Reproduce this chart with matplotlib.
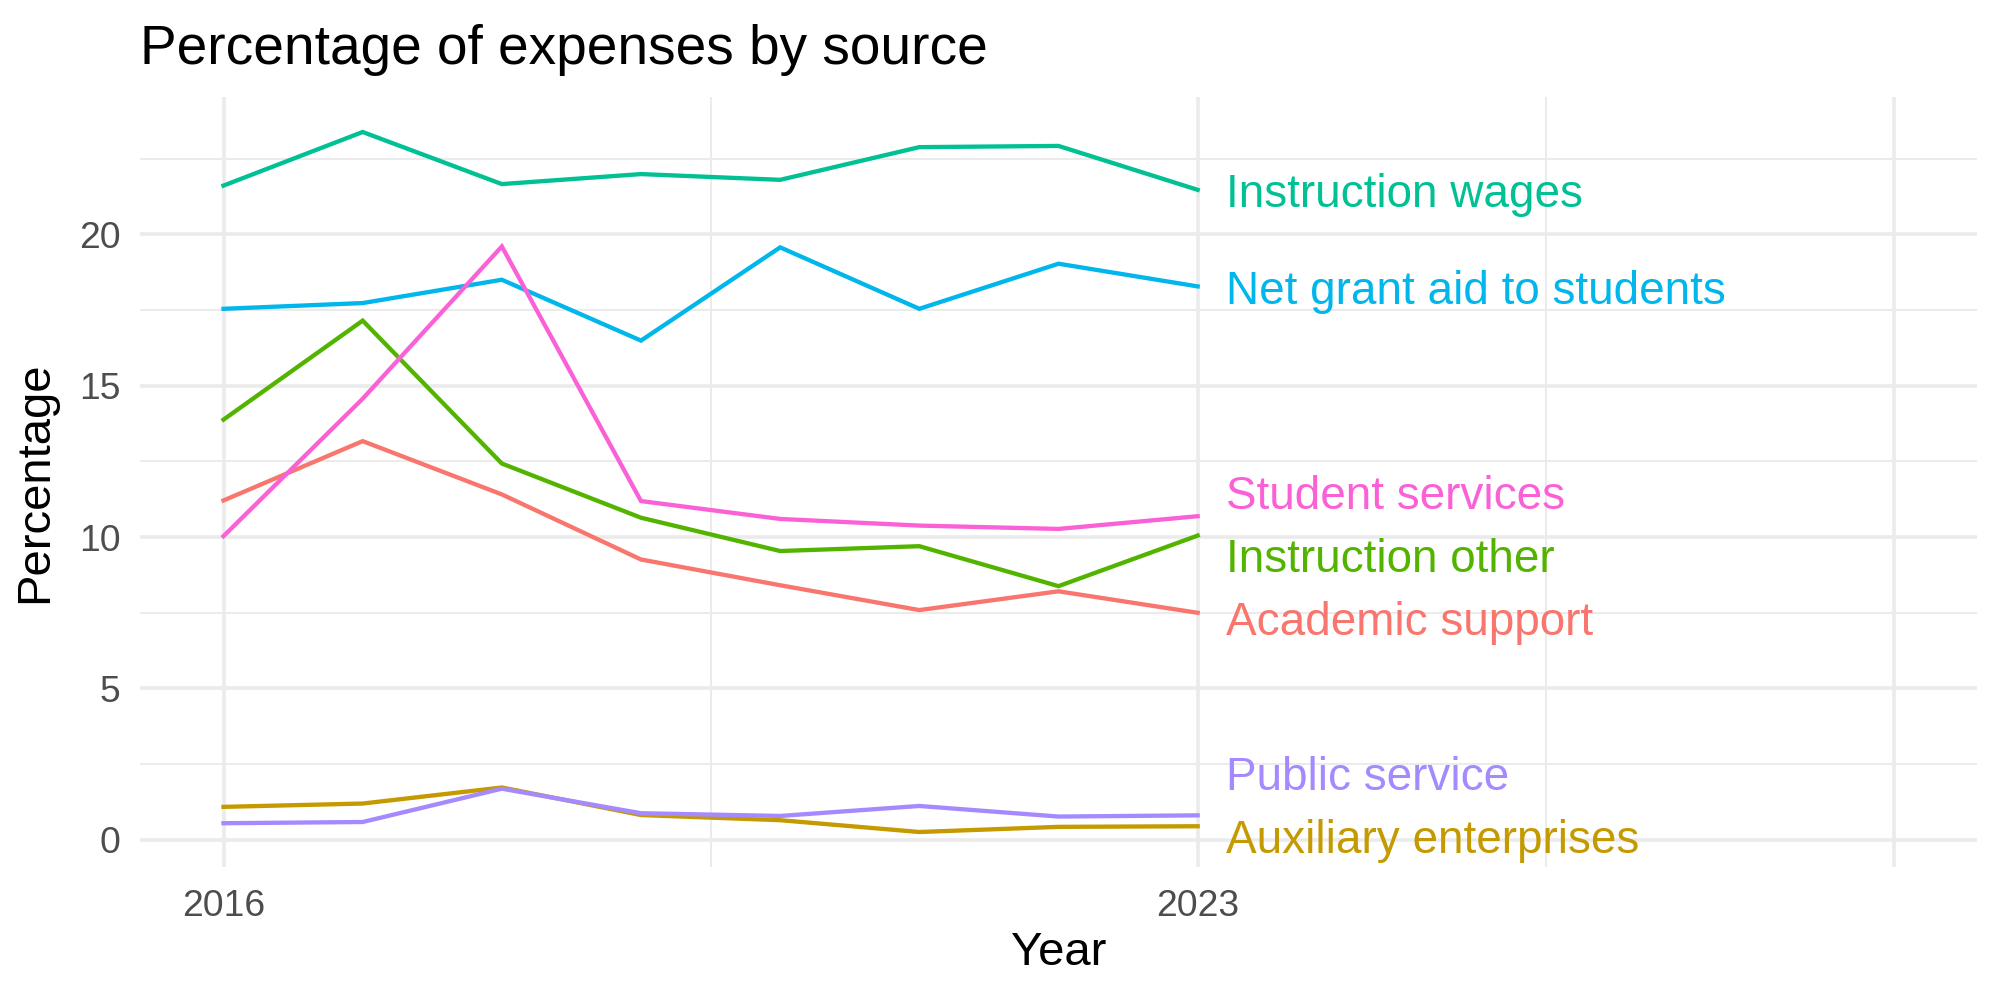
import matplotlib.pyplot as plt
import numpy as np

plt.rcParams['font.family'] = ['Liberation Sans', 'DejaVu Sans']

years = [2016, 2017, 2018, 2019, 2020, 2021, 2022, 2023]

academic_support = [11.21, 13.17, 11.41, 9.26, 8.41, 7.59, 8.21, 7.50]
auxiliary = [1.09, 1.20, 1.73, 0.82, 0.65, 0.26, 0.43, 0.45]
instruction_other = [13.88, 17.15, 12.43, 10.64, 9.54, 9.70, 8.38, 10.05]
instruction_wages = [21.61, 23.38, 21.66, 21.99, 21.80, 22.88, 22.92, 21.47]
net_grant_aid = [17.54, 17.73, 18.50, 16.49, 19.57, 17.54, 19.03, 18.28]
public_service = [0.55, 0.59, 1.69, 0.88, 0.79, 1.12, 0.77, 0.81]
student_services = [10.03, 14.57, 19.60, 11.19, 10.60, 10.38, 10.27, 10.69]

names = ['Academic support', 'Auxiliary enterprises', 'Instruction other',
         'Instruction wages', 'Net grant aid to students', 'Public service',
         'Student services']
series = [academic_support, auxiliary, instruction_other, instruction_wages,
          net_grant_aid, public_service, student_services]
colors = ['#F8766D', '#C49A00', '#53B400', '#00C094', '#00B6EB', '#A58AFF', '#FB61D7']

fig = plt.figure(figsize=(10, 5), dpi=200)
ax = fig.add_axes([0.07, 0.133, 0.9185, 0.77])

for vals, col in zip(series, colors):
    ax.plot(years, vals, color=col, lw=1.55, solid_joinstyle='miter', zorder=3)

# y limits with ggplot-like 5% expansion
allv = np.concatenate([np.array(s) for s in series])
lo, hi = allv.min(), allv.max()
r = hi - lo
ax.set_ylim(lo - 0.05 * r, hi + 0.05 * r)
ax.set_xlim(2016 - 0.6, 2028 + 0.6)

# end labels, simple repel so they do not overlap
last = np.array([s[-1] for s in series])
order = np.argsort(last)
pos = last.copy()
gap = 2.08
floor = 0.13
for _ in range(200):
    for a, b in zip(order[:-1], order[1:]):
        d = pos[b] - pos[a]
        if d < gap:
            m = (gap - d) / 2
            pos[a] -= m
            pos[b] += m
    pos = np.maximum(pos, floor)
for i, (nm, col) in enumerate(zip(names, colors)):
    ax.text(years[-1] + 0.2, pos[i] - 0.17, nm, color=col, fontsize=16.5,
            va='center', ha='left', zorder=4)

# grid
ax.set_xticks([2016, 2023, 2028])
ax.set_xticklabels(['2016', '2023', ''])
ax.set_xticks([2019.5, 2025.5], minor=True)
ax.set_yticks([0, 5, 10, 15, 20])
ax.set_yticks([2.5, 7.5, 12.5, 17.5, 22.5], minor=True)
ax.grid(which='major', color='#EBEBEB', lw=1.3, zorder=0)
ax.grid(which='minor', color='#EBEBEB', lw=0.7, zorder=0)
ax.tick_params(which='both', length=0, labelsize=13.4, labelcolor='#4D4D4D')
ax.tick_params(axis='x', pad=8)
ax.tick_params(axis='y', pad=7)
for s in ax.spines.values():
    s.set_visible(False)

ax.set_title('Percentage of expenses by source', loc='left', fontsize=19.8, pad=12)
ax.set_xlabel('Year', fontsize=17)
ax.set_ylabel('Percentage', fontsize=17)
ax.xaxis.set_label_coords(0.5, -0.083)
ax.yaxis.set_label_coords(-0.045, 0.5)

fig.savefig('out.png', dpi=200, facecolor='white')
